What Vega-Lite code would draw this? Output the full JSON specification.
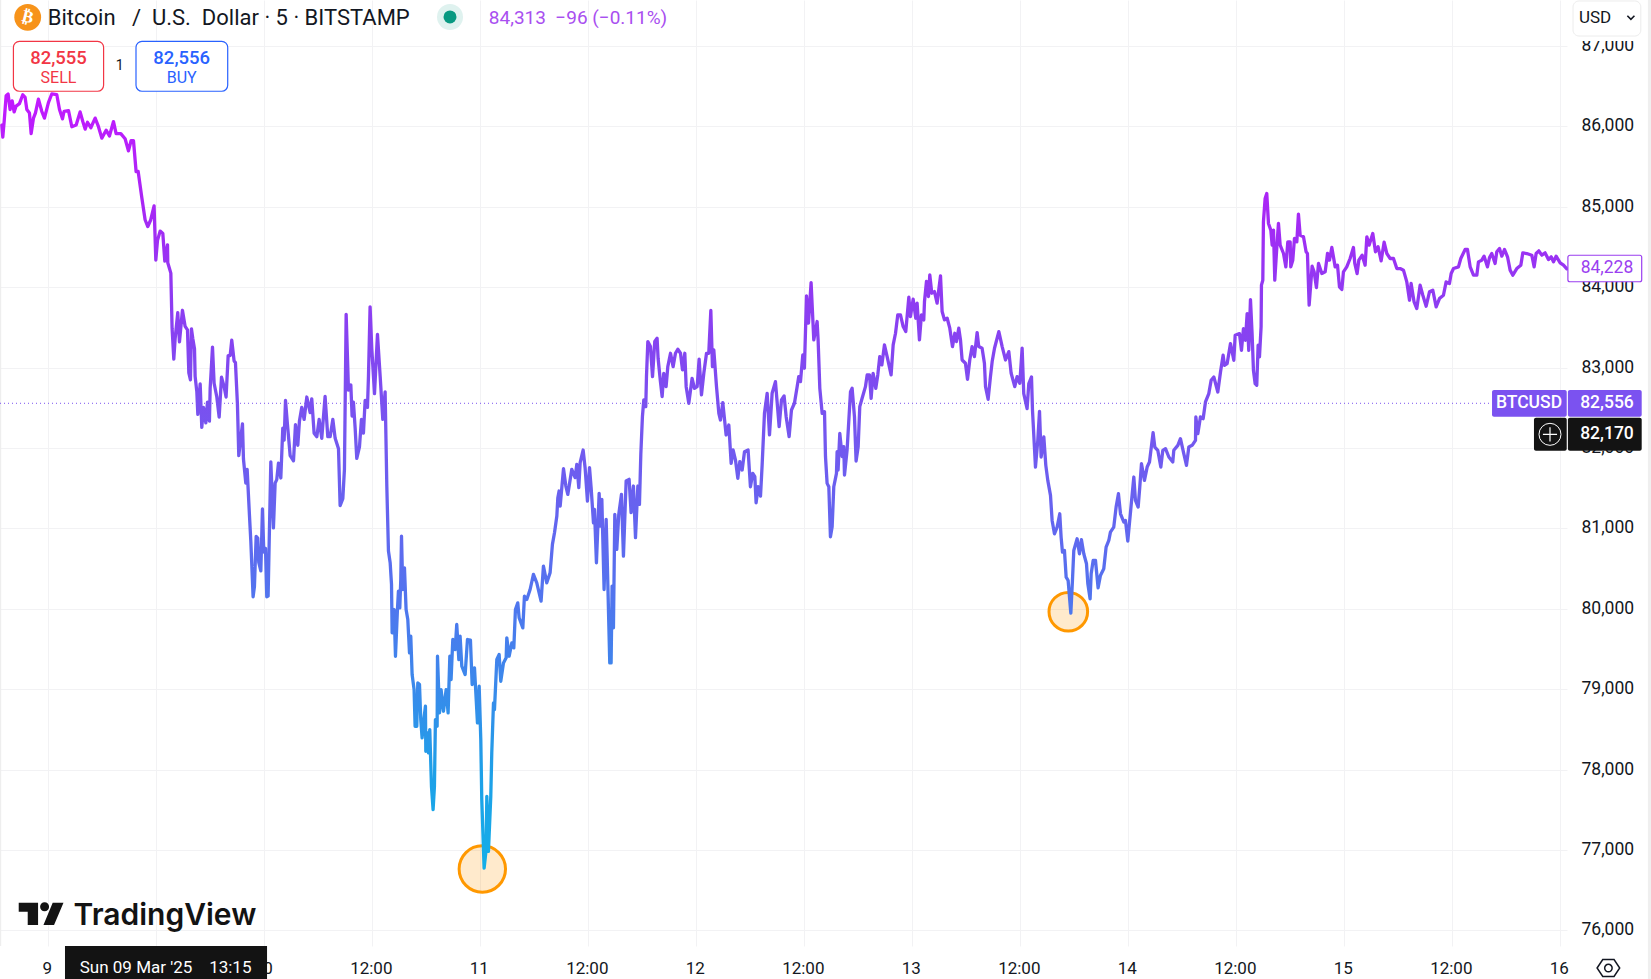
{"$schema":"https://vega.github.io/schema/vega-lite/v6.json","width":1567,"height":946,"padding":{"left":0,"top":0,"right":84,"bottom":33},"autosize":{"type":"none"},"background":"#ffffff","config":{"view":{"stroke":null}},
"encoding":{"x":{"field":"h","type":"quantitative","scale":{"domain":[-5.311,168.8],"nice":false,"zero":false},"axis":{"values":[0,12,24,36,48,60,72,84,96,108,120,132,144,156,168],"labelExpr":"datum.value%24==0?''+(9+datum.value/24):'12:00'","grid":true,"gridColor":"#f2f2f4","domain":false,"ticks":false,"title":null,"labelFont":"Roboto","labelFontSize":17,"labelColor":"#131722","labelPadding":14,"labelOffset":-1,"labelOverlap":false,"labelBound":false,"labelFlush":false}},"y":{"field":"p","type":"quantitative","scale":{"domain":[75806,87572],"nice":false,"zero":false},"axis":{"orient":"right","values":[76000,77000,78000,79000,80000,81000,82000,83000,84000,85000,86000,87000],"format":",.0f","grid":true,"gridColor":"#f2f2f4","domain":false,"ticks":false,"title":null,"labelFont":"Roboto","labelFontSize":17.5,"labelColor":"#131722","labelPadding":14,"labelOffset":-0.5,"labelOverlap":false,"labelBound":false,"labelFlush":false}}},
"layer":[
{"data":{"values":[{"h":-5.26,"p":75806,"p2":87572}]},"mark":{"type":"rule","color":"#eeeeee","strokeWidth":1.5},"encoding":{"y2":{"field":"p2"}}},
{"data":{"values":[{"h":177.96,"p":75396,"p2":87572}]},"mark":{"type":"rule","color":"#efefef","strokeWidth":3},"encoding":{"y2":{"field":"p2"}}},
{"data":{"values":[{"h":-5.311,"h2":160.2,"p":82556}]},"mark":{"type":"rule","color":"#7b52f0","strokeWidth":1,"strokeDash":[1,3]},"encoding":{"x2":{"field":"h2"}}},
{"data":{"values":[{"h":48.28,"p":76764},{"h":113.39,"p":79964}]},"transform":[{"calculate":"datum.h<60?2153:1490","as":"area"}],"mark":{"type":"point","filled":false,"fill":"#ff9800","fillOpacity":0.2,"stroke":"#ff9800","strokeWidth":3,"opacity":1,"shape":"circle"},"encoding":{"size":{"field":"area","type":"quantitative","scale":null}}},
{"data":{"values":[{"h":-5.11,"p":86017},{"h":-5.0,"p":85867},{"h":-4.85,"p":86060},{"h":-4.63,"p":86381},{"h":-4.41,"p":86403},{"h":-4.19,"p":86210},{"h":-3.96,"p":86317},{"h":-3.74,"p":86180},{"h":-3.52,"p":86253},{"h":-3.15,"p":86283},{"h":-2.78,"p":86394},{"h":-2.52,"p":86360},{"h":-2.33,"p":86210},{"h":-2.04,"p":86167},{"h":-1.85,"p":85910},{"h":-1.59,"p":86103},{"h":-1.37,"p":86167},{"h":-1.04,"p":86338},{"h":-0.67,"p":86188},{"h":-0.37,"p":86103},{"h":0.07,"p":86296},{"h":0.44,"p":86403},{"h":1.0,"p":86394},{"h":1.3,"p":86210},{"h":1.63,"p":86094},{"h":1.81,"p":86188},{"h":2.3,"p":86197},{"h":2.67,"p":85996},{"h":3.15,"p":86017},{"h":3.59,"p":86180},{"h":3.89,"p":86060},{"h":4.15,"p":85966},{"h":4.41,"p":86051},{"h":4.78,"p":85983},{"h":5.26,"p":86103},{"h":5.63,"p":85996},{"h":6.0,"p":85854},{"h":6.48,"p":85953},{"h":6.85,"p":85880},{"h":7.3,"p":86060},{"h":7.59,"p":85910},{"h":8.11,"p":85910},{"h":8.59,"p":85846},{"h":8.96,"p":85696},{"h":9.26,"p":85824},{"h":9.52,"p":85824},{"h":9.81,"p":85439},{"h":10.04,"p":85439},{"h":10.44,"p":85118},{"h":10.81,"p":84839},{"h":11.11,"p":84754},{"h":11.44,"p":84839},{"h":11.81,"p":85011},{"h":12.0,"p":84338},{"h":12.19,"p":84582},{"h":12.48,"p":84698},{"h":12.78,"p":84668},{"h":13.0,"p":84325},{"h":13.3,"p":84527},{"h":13.33,"p":84304},{"h":13.67,"p":84175},{"h":13.81,"p":83490},{"h":14.0,"p":83105},{"h":14.15,"p":83362},{"h":14.44,"p":83683},{"h":14.63,"p":83319},{"h":14.96,"p":83713},{"h":15.26,"p":83512},{"h":15.52,"p":83469},{"h":15.67,"p":82933},{"h":15.85,"p":82848},{"h":15.96,"p":83482},{"h":16.11,"p":83362},{"h":16.3,"p":83233},{"h":16.37,"p":82891},{"h":16.56,"p":82698},{"h":16.67,"p":82419},{"h":16.93,"p":82796},{"h":17.11,"p":82257},{"h":17.3,"p":82505},{"h":17.56,"p":82312},{"h":17.74,"p":82569},{"h":17.96,"p":82334},{"h":18.04,"p":82741},{"h":18.3,"p":83255},{"h":18.48,"p":82805},{"h":18.78,"p":82634},{"h":19.04,"p":82385},{"h":19.3,"p":82882},{"h":19.59,"p":82762},{"h":19.81,"p":82634},{"h":20.04,"p":83148},{"h":20.26,"p":83148},{"h":20.44,"p":83340},{"h":20.7,"p":83083},{"h":20.85,"p":83062},{"h":21.07,"p":82548},{"h":21.22,"p":81905},{"h":21.44,"p":82120},{"h":21.63,"p":82300},{"h":21.74,"p":81863},{"h":22.0,"p":81563},{"h":22.15,"p":81734},{"h":22.41,"p":81156},{"h":22.56,"p":80835},{"h":22.81,"p":80150},{"h":22.96,"p":80278},{"h":23.15,"p":80899},{"h":23.33,"p":80878},{"h":23.44,"p":80578},{"h":23.67,"p":80471},{"h":23.85,"p":81242},{"h":24.0,"p":80706},{"h":24.19,"p":80749},{"h":24.33,"p":80150},{"h":24.48,"p":80158},{"h":24.63,"p":81006},{"h":24.78,"p":81828},{"h":25.07,"p":81006},{"h":25.26,"p":81563},{"h":25.44,"p":81606},{"h":25.63,"p":81811},{"h":25.89,"p":81627},{"h":26.11,"p":82248},{"h":26.26,"p":82098},{"h":26.41,"p":82591},{"h":26.63,"p":82291},{"h":26.93,"p":81905},{"h":27.3,"p":81841},{"h":27.52,"p":82291},{"h":27.78,"p":82034},{"h":27.96,"p":82334},{"h":28.22,"p":82505},{"h":28.48,"p":82355},{"h":28.78,"p":82634},{"h":29.15,"p":82441},{"h":29.33,"p":82612},{"h":29.59,"p":82184},{"h":29.89,"p":82141},{"h":30.15,"p":82355},{"h":30.44,"p":82120},{"h":30.81,"p":82642},{"h":31.11,"p":82141},{"h":31.37,"p":82141},{"h":31.67,"p":82355},{"h":31.93,"p":82120},{"h":32.3,"p":81991},{"h":32.48,"p":81284},{"h":32.78,"p":81370},{"h":32.96,"p":81734},{"h":33.15,"p":83662},{"h":33.41,"p":82719},{"h":33.67,"p":82783},{"h":33.81,"p":82398},{"h":33.96,"p":82569},{"h":34.15,"p":82248},{"h":34.33,"p":81871},{"h":34.63,"p":82013},{"h":34.85,"p":82355},{"h":35.07,"p":82184},{"h":35.26,"p":82591},{"h":35.52,"p":82505},{"h":35.63,"p":82891},{"h":35.81,"p":83756},{"h":36.0,"p":83233},{"h":36.3,"p":82676},{"h":36.63,"p":83413},{"h":36.93,"p":82891},{"h":37.22,"p":82355},{"h":37.48,"p":82698},{"h":37.67,"p":81520},{"h":37.85,"p":80718},{"h":38.04,"p":80573},{"h":38.19,"p":80303},{"h":38.26,"p":79701},{"h":38.48,"p":79991},{"h":38.63,"p":79410},{"h":38.85,"p":79991},{"h":38.96,"p":80220},{"h":39.11,"p":80012},{"h":39.22,"p":80365},{"h":39.3,"p":80904},{"h":39.44,"p":80240},{"h":39.63,"p":80510},{"h":39.81,"p":79991},{"h":40.0,"p":79867},{"h":40.19,"p":79452},{"h":40.33,"p":79659},{"h":40.48,"p":79182},{"h":40.7,"p":78995},{"h":40.81,"p":78539},{"h":41.0,"p":78539},{"h":41.11,"p":79078},{"h":41.3,"p":79058},{"h":41.44,"p":78622},{"h":41.59,"p":78394},{"h":41.78,"p":78622},{"h":41.96,"p":78788},{"h":42.0,"p":78228},{"h":42.19,"p":78456},{"h":42.3,"p":78207},{"h":42.44,"p":78497},{"h":42.63,"p":77792},{"h":42.81,"p":77501},{"h":42.96,"p":77792},{"h":43.07,"p":78622},{"h":43.26,"p":78539},{"h":43.3,"p":79410},{"h":43.52,"p":78705},{"h":43.7,"p":78995},{"h":43.96,"p":78726},{"h":44.26,"p":78995},{"h":44.48,"p":78705},{"h":44.67,"p":79410},{"h":44.81,"p":79120},{"h":45.0,"p":79618},{"h":45.26,"p":79493},{"h":45.44,"p":79805},{"h":45.67,"p":79369},{"h":45.81,"p":79659},{"h":46.0,"p":79286},{"h":46.37,"p":79182},{"h":46.63,"p":79618},{"h":46.96,"p":79610},{"h":47.15,"p":79058},{"h":47.41,"p":79265},{"h":47.74,"p":78580},{"h":47.93,"p":79037},{"h":48.11,"p":78373},{"h":48.22,"p":77626},{"h":48.48,"p":76775},{"h":48.7,"p":77003},{"h":48.78,"p":77667},{"h":48.96,"p":76983},{"h":49.22,"p":77667},{"h":49.33,"p":78207},{"h":49.52,"p":78829},{"h":49.63,"p":78746},{"h":49.89,"p":79369},{"h":50.15,"p":79431},{"h":50.33,"p":79099},{"h":50.63,"p":79327},{"h":50.93,"p":79390},{"h":51.0,"p":79639},{"h":51.26,"p":79410},{"h":51.56,"p":79576},{"h":51.78,"p":79514},{"h":51.96,"p":79991},{"h":52.22,"p":80074},{"h":52.37,"p":79888},{"h":52.78,"p":79763},{"h":52.96,"p":80157},{"h":53.22,"p":80116},{"h":53.59,"p":80240},{"h":53.96,"p":80427},{"h":54.33,"p":80323},{"h":54.81,"p":80095},{"h":55.07,"p":80531},{"h":55.44,"p":80323},{"h":55.81,"p":80448},{"h":56.07,"p":80801},{"h":56.3,"p":80946},{"h":56.56,"p":81153},{"h":56.67,"p":81382},{"h":56.81,"p":81465},{"h":56.93,"p":81278},{"h":57.3,"p":81743},{"h":57.56,"p":81527},{"h":57.78,"p":81423},{"h":58.22,"p":81734},{"h":58.59,"p":81631},{"h":58.78,"p":81797},{"h":59.0,"p":81506},{"h":59.15,"p":81817},{"h":59.48,"p":81975},{"h":59.7,"p":81755},{"h":59.96,"p":81340},{"h":60.19,"p":81755},{"h":60.37,"p":81506},{"h":60.63,"p":81070},{"h":60.74,"p":81236},{"h":60.96,"p":80572},{"h":61.26,"p":81436},{"h":61.41,"p":81029},{"h":61.56,"p":81361},{"h":61.81,"p":80240},{"h":62.04,"p":81112},{"h":62.15,"p":80655},{"h":62.44,"p":79327},{"h":62.59,"p":79327},{"h":62.7,"p":80282},{"h":62.85,"p":79763},{"h":63.0,"p":81174},{"h":63.22,"p":80738},{"h":63.44,"p":81174},{"h":63.74,"p":81423},{"h":63.96,"p":80655},{"h":64.26,"p":81589},{"h":64.59,"p":81610},{"h":64.81,"p":81195},{"h":65.07,"p":81527},{"h":65.3,"p":80884},{"h":65.56,"p":81527},{"h":65.74,"p":81299},{"h":65.89,"p":81921},{"h":66.07,"p":82390},{"h":66.22,"p":82597},{"h":66.44,"p":82514},{"h":66.52,"p":82888},{"h":66.67,"p":83324},{"h":66.96,"p":83261},{"h":67.19,"p":82888},{"h":67.44,"p":83324},{"h":67.7,"p":83365},{"h":67.81,"p":83116},{"h":68.07,"p":82826},{"h":68.26,"p":82639},{"h":68.44,"p":82929},{"h":68.7,"p":82763},{"h":68.89,"p":83012},{"h":69.19,"p":83178},{"h":69.48,"p":83012},{"h":69.74,"p":83178},{"h":70.0,"p":83228},{"h":70.3,"p":83178},{"h":70.52,"p":82971},{"h":70.78,"p":83178},{"h":70.93,"p":82763},{"h":71.22,"p":82556},{"h":71.59,"p":82867},{"h":71.85,"p":82742},{"h":72.15,"p":82763},{"h":72.37,"p":83104},{"h":72.63,"p":82660},{"h":72.89,"p":82929},{"h":73.19,"p":83178},{"h":73.44,"p":83178},{"h":73.67,"p":83710},{"h":73.85,"p":83012},{"h":74.0,"p":83220},{"h":74.3,"p":82763},{"h":74.56,"p":82431},{"h":74.74,"p":82348},{"h":75.0,"p":82564},{"h":75.37,"p":82162},{"h":75.67,"p":82286},{"h":75.93,"p":81809},{"h":76.15,"p":81975},{"h":76.41,"p":81850},{"h":76.67,"p":81622},{"h":76.89,"p":81830},{"h":77.15,"p":81726},{"h":77.41,"p":81954},{"h":77.81,"p":81975},{"h":78.07,"p":81518},{"h":78.33,"p":81684},{"h":78.56,"p":81643},{"h":78.7,"p":81319},{"h":78.93,"p":81518},{"h":79.19,"p":81402},{"h":79.37,"p":81788},{"h":79.63,"p":82431},{"h":79.93,"p":82680},{"h":80.19,"p":82162},{"h":80.48,"p":82680},{"h":80.85,"p":82826},{"h":81.26,"p":82265},{"h":81.52,"p":82597},{"h":81.81,"p":82647},{"h":82.04,"p":82390},{"h":82.37,"p":82141},{"h":82.63,"p":82473},{"h":82.96,"p":82556},{"h":83.26,"p":82763},{"h":83.44,"p":82888},{"h":83.63,"p":82826},{"h":83.89,"p":83158},{"h":84.07,"p":82992},{"h":84.3,"p":83892},{"h":84.52,"p":83552},{"h":84.81,"p":84058},{"h":85.11,"p":83344},{"h":85.48,"p":83573},{"h":85.59,"p":83344},{"h":85.78,"p":82742},{"h":86.04,"p":82431},{"h":86.3,"p":82452},{"h":86.41,"p":81892},{"h":86.59,"p":81560},{"h":86.78,"p":81518},{"h":86.96,"p":80896},{"h":87.15,"p":81020},{"h":87.33,"p":81518},{"h":87.63,"p":81684},{"h":87.7,"p":81954},{"h":87.81,"p":81726},{"h":88.0,"p":82182},{"h":88.26,"p":81892},{"h":88.44,"p":82016},{"h":88.52,"p":81664},{"h":88.81,"p":81975},{"h":89.19,"p":82701},{"h":89.37,"p":82742},{"h":89.63,"p":82390},{"h":89.81,"p":81838},{"h":90.04,"p":82016},{"h":90.22,"p":82514},{"h":90.48,"p":82618},{"h":90.85,"p":82763},{"h":91.04,"p":82909},{"h":91.3,"p":82909},{"h":91.48,"p":82618},{"h":91.7,"p":82929},{"h":92.0,"p":82742},{"h":92.22,"p":82909},{"h":92.44,"p":83137},{"h":92.67,"p":83033},{"h":92.96,"p":83282},{"h":93.26,"p":83137},{"h":93.7,"p":82909},{"h":93.93,"p":83282},{"h":94.19,"p":83427},{"h":94.44,"p":83656},{"h":94.74,"p":83656},{"h":95.04,"p":83510},{"h":95.33,"p":83448},{"h":95.67,"p":83876},{"h":95.85,"p":83635},{"h":96.15,"p":83851},{"h":96.44,"p":83614},{"h":96.59,"p":83801},{"h":96.85,"p":83344},{"h":97.07,"p":83656},{"h":97.33,"p":83593},{"h":97.41,"p":83822},{"h":97.63,"p":84071},{"h":97.85,"p":83884},{"h":98.0,"p":84154},{"h":98.22,"p":83925},{"h":98.52,"p":83946},{"h":98.81,"p":83801},{"h":99.19,"p":84141},{"h":99.37,"p":83697},{"h":99.63,"p":83593},{"h":99.93,"p":83614},{"h":100.22,"p":83490},{"h":100.52,"p":83261},{"h":100.78,"p":83427},{"h":100.96,"p":83324},{"h":101.22,"p":83490},{"h":101.41,"p":83344},{"h":101.59,"p":83095},{"h":101.96,"p":83054},{"h":102.19,"p":82855},{"h":102.44,"p":83095},{"h":102.7,"p":83261},{"h":102.96,"p":83137},{"h":103.26,"p":83436},{"h":103.44,"p":83261},{"h":103.81,"p":83241},{"h":104.07,"p":83054},{"h":104.19,"p":82763},{"h":104.48,"p":82606},{"h":104.74,"p":82888},{"h":104.93,"p":83075},{"h":105.19,"p":83241},{"h":105.67,"p":83448},{"h":106.04,"p":83261},{"h":106.41,"p":83095},{"h":106.78,"p":83199},{"h":107.04,"p":82929},{"h":107.44,"p":82763},{"h":107.7,"p":82888},{"h":108.0,"p":82805},{"h":108.26,"p":83241},{"h":108.44,"p":82676},{"h":108.81,"p":82490},{"h":109.0,"p":82801},{"h":109.3,"p":82884},{"h":109.41,"p":82469},{"h":109.74,"p":81763},{"h":110.0,"p":82095},{"h":110.19,"p":82456},{"h":110.37,"p":81888},{"h":110.67,"p":82137},{"h":110.89,"p":81784},{"h":111.11,"p":81597},{"h":111.41,"p":81411},{"h":111.59,"p":81099},{"h":111.85,"p":80933},{"h":112.15,"p":81016},{"h":112.44,"p":81182},{"h":112.59,"p":80892},{"h":112.74,"p":80705},{"h":112.96,"p":80726},{"h":113.15,"p":80394},{"h":113.37,"p":80352},{"h":113.67,"p":79946},{"h":113.85,"p":80352},{"h":114.0,"p":80726},{"h":114.37,"p":80871},{"h":114.63,"p":80684},{"h":114.85,"p":80859},{"h":115.11,"p":80684},{"h":115.41,"p":80560},{"h":115.56,"p":80311},{"h":115.81,"p":80124},{"h":115.93,"p":80435},{"h":116.15,"p":80601},{"h":116.41,"p":80601},{"h":116.7,"p":80261},{"h":116.96,"p":80415},{"h":117.33,"p":80498},{"h":117.59,"p":80767},{"h":117.89,"p":80850},{"h":118.07,"p":80954},{"h":118.44,"p":81016},{"h":118.7,"p":81265},{"h":118.96,"p":81431},{"h":119.19,"p":81182},{"h":119.56,"p":81079},{"h":119.74,"p":81099},{"h":120.0,"p":80842},{"h":120.11,"p":80975},{"h":120.37,"p":81286},{"h":120.67,"p":81639},{"h":120.85,"p":81348},{"h":121.15,"p":81265},{"h":121.33,"p":81514},{"h":121.52,"p":81805},{"h":121.85,"p":81597},{"h":122.15,"p":81763},{"h":122.41,"p":81826},{"h":122.81,"p":82191},{"h":123.0,"p":82012},{"h":123.33,"p":81971},{"h":123.67,"p":81763},{"h":123.89,"p":81971},{"h":124.19,"p":81992},{"h":124.56,"p":81888},{"h":125.0,"p":81826},{"h":125.11,"p":81971},{"h":125.56,"p":82033},{"h":125.85,"p":82116},{"h":126.22,"p":81929},{"h":126.52,"p":81784},{"h":126.78,"p":82012},{"h":127.15,"p":82033},{"h":127.52,"p":82095},{"h":127.56,"p":82386},{"h":127.78,"p":82178},{"h":128.07,"p":82386},{"h":128.37,"p":82365},{"h":128.63,"p":82573},{"h":129.0,"p":82676},{"h":129.26,"p":82842},{"h":129.56,"p":82884},{"h":130.0,"p":82697},{"h":130.3,"p":82946},{"h":130.59,"p":83154},{"h":130.74,"p":83029},{"h":131.04,"p":83050},{"h":131.41,"p":83299},{"h":131.78,"p":83091},{"h":131.93,"p":83402},{"h":132.41,"p":83423},{"h":132.63,"p":83215},{"h":132.85,"p":83485},{"h":133.07,"p":83340},{"h":133.26,"p":83672},{"h":133.44,"p":83215},{"h":133.63,"p":83846},{"h":133.81,"p":83423},{"h":133.96,"p":82967},{"h":134.15,"p":82800},{"h":134.33,"p":82780},{"h":134.48,"p":83278},{"h":134.63,"p":83133},{"h":134.81,"p":83506},{"h":134.85,"p":84025},{"h":135.0,"p":84087},{"h":135.07,"p":84813},{"h":135.26,"p":85104},{"h":135.44,"p":85166},{"h":135.63,"p":84793},{"h":135.89,"p":84710},{"h":136.04,"p":84523},{"h":136.19,"p":84710},{"h":136.33,"p":84087},{"h":136.56,"p":84502},{"h":136.74,"p":84793},{"h":136.93,"p":84523},{"h":137.3,"p":84419},{"h":137.56,"p":84253},{"h":137.78,"p":84564},{"h":138.04,"p":84564},{"h":138.11,"p":84253},{"h":138.33,"p":84336},{"h":138.52,"p":84606},{"h":138.78,"p":84564},{"h":138.96,"p":84909},{"h":139.15,"p":84647},{"h":139.52,"p":84627},{"h":139.81,"p":84440},{"h":139.96,"p":84419},{"h":140.15,"p":83776},{"h":140.48,"p":84261},{"h":140.7,"p":84191},{"h":140.96,"p":83996},{"h":141.19,"p":84295},{"h":141.56,"p":84170},{"h":141.93,"p":84191},{"h":142.19,"p":84419},{"h":142.41,"p":84336},{"h":142.67,"p":84494},{"h":143.04,"p":84253},{"h":143.3,"p":84274},{"h":143.52,"p":84004},{"h":143.78,"p":83971},{"h":143.96,"p":84191},{"h":144.33,"p":84253},{"h":144.7,"p":84357},{"h":145.07,"p":84494},{"h":145.22,"p":84295},{"h":145.48,"p":84170},{"h":145.67,"p":84336},{"h":146.04,"p":84398},{"h":146.37,"p":84274},{"h":146.56,"p":84627},{"h":146.81,"p":84523},{"h":147.22,"p":84668},{"h":147.52,"p":84440},{"h":147.81,"p":84502},{"h":148.15,"p":84328},{"h":148.48,"p":84560},{"h":148.78,"p":84419},{"h":149.15,"p":84357},{"h":149.52,"p":84357},{"h":149.89,"p":84232},{"h":150.26,"p":84232},{"h":150.63,"p":84212},{"h":151.0,"p":84066},{"h":151.3,"p":83838},{"h":151.48,"p":84046},{"h":151.81,"p":83817},{"h":152.11,"p":83734},{"h":152.48,"p":84025},{"h":152.78,"p":83900},{"h":153.15,"p":83763},{"h":153.52,"p":83942},{"h":153.89,"p":83962},{"h":154.26,"p":83755},{"h":154.63,"p":83859},{"h":155.07,"p":83900},{"h":155.37,"p":84066},{"h":155.74,"p":84046},{"h":155.93,"p":84170},{"h":156.19,"p":84232},{"h":156.74,"p":84253},{"h":157.0,"p":84357},{"h":157.48,"p":84469},{"h":157.74,"p":84469},{"h":158.04,"p":84253},{"h":158.41,"p":84149},{"h":158.78,"p":84149},{"h":158.96,"p":84315},{"h":159.33,"p":84336},{"h":159.59,"p":84386},{"h":159.96,"p":84253},{"h":160.19,"p":84369},{"h":160.44,"p":84419},{"h":160.81,"p":84295},{"h":161.0,"p":84440},{"h":161.3,"p":84481},{"h":161.56,"p":84386},{"h":161.85,"p":84469},{"h":162.19,"p":84378},{"h":162.48,"p":84212},{"h":162.78,"p":84149},{"h":163.22,"p":84232},{"h":163.67,"p":84274},{"h":163.89,"p":84427},{"h":164.33,"p":84419},{"h":164.89,"p":84398},{"h":165.15,"p":84253},{"h":165.37,"p":84419},{"h":165.67,"p":84452},{"h":166.0,"p":84398},{"h":166.37,"p":84427},{"h":166.74,"p":84344},{"h":167.04,"p":84378},{"h":167.3,"p":84315},{"h":167.59,"p":84386},{"h":168.04,"p":84303},{"h":168.41,"p":84274},{"h":168.78,"p":84228}]},"mark":{"type":"line","strokeWidth":3.3,"strokeJoin":"round","strokeCap":"round","color":{"gradient":"linear","x1":0,"y1":0,"x2":0,"y2":1,"stops":[{"offset":0,"color":"#c219ff"},{"offset":0.14,"color":"#a926f5"},{"offset":0.25,"color":"#9139f2"},{"offset":0.35,"color":"#8148f0"},{"offset":0.45,"color":"#7358ef"},{"offset":0.56,"color":"#6266ef"},{"offset":0.66,"color":"#4f76ee"},{"offset":0.76,"color":"#3b88eb"},{"offset":0.87,"color":"#1f9fe8"},{"offset":1,"color":"#14aee8"}]}}},
{"data":{"values":[{"h":169.47,"h2":177.0,"p":87062,"p2":87124}]},"mark":{"type":"rect","fill":"#ffffff"},"encoding":{"x2":{"field":"h2"},"y2":{"field":"p2"}}},
{"data":{"values":[{"h":169.47,"h2":177.0,"p":87124,"p2":87560}]},"mark":{"type":"rect","fill":"#ffffff","stroke":"#ececec","strokeWidth":1,"cornerRadius":6},"encoding":{"x2":{"field":"h2"},"y2":{"field":"p2"}}},
{"data":{"values":[{"h":168.9,"h2":177.1,"p":84068,"p2":84397}]},"mark":{"type":"rect","fill":"#ffffff","stroke":"#9b3ff0","strokeWidth":1.2,"cornerRadius":2},"encoding":{"x2":{"field":"h2"},"y2":{"field":"p2"}}},
{"data":{"values":[{"h":160.47,"h2":168.77,"p":82389,"p2":82721},{"h":168.9,"h2":177.1,"p":82389,"p2":82721}]},"mark":{"type":"rect","fill":"#7b52f0","cornerRadius":2},"encoding":{"x2":{"field":"h2"},"y2":{"field":"p2"}}},
{"data":{"values":[{"h":165.13,"h2":168.77,"p":81966,"p2":82377},{"h":168.9,"h2":177.1,"p":81966,"p2":82377}]},"mark":{"type":"rect","fill":"#131313","cornerRadius":2},"encoding":{"x2":{"field":"h2"},"y2":{"field":"p2"}}},
{"data":{"values":[{"h":1.91,"h2":24.36,"p":75396,"p2":75806}]},"mark":{"type":"rect","fill":"#131313"},"encoding":{"x2":{"field":"h2"},"y2":{"field":"p2"}}},
{"data":{"values":[{"h":-3.82,"h2":6.2,"p":86437,"p2":87058}]},"mark":{"type":"rect","fill":"#ffffff","stroke":"#f23645","strokeWidth":1.2,"cornerRadius":6},"encoding":{"x2":{"field":"h2"},"y2":{"field":"p2"}}},
{"data":{"values":[{"h":9.8,"h2":19.99,"p":86437,"p2":87058}]},"mark":{"type":"rect","fill":"#ffffff","stroke":"#2962ff","strokeWidth":1.2,"cornerRadius":6},"encoding":{"x2":{"field":"h2"},"y2":{"field":"p2"}}},
{"data":{"values":[{"h":-2.233,"p":87357}]},"mark":{"type":"point","filled":true,"shape":"circle","size":718,"color":"#f7931a","opacity":1}},
{"data":{"values":[{"h":44.69,"p":87361}]},"mark":{"type":"point","filled":true,"shape":"circle","size":676,"color":"#dff2ef","opacity":1}},
{"data":{"values":[{"h":44.69,"p":87361}]},"mark":{"type":"point","filled":true,"shape":"circle","size":169,"color":"#089981","opacity":1}},
{"data":{"values":[{"h":166.91,"p":82170}]},"mark":{"type":"point","filled":false,"shape":"circle","size":484,"color":"#ffffff","strokeWidth":1,"opacity":1}},
{"data":{"values":[{"h":166.91,"p":82170}]},"mark":{"type":"point","filled":false,"shape":"M-1,0H1M0,-1V1","size":200,"color":"#ffffff","strokeWidth":1.2,"opacity":1}},
{"data":{"values":[{"h":175.9,"p":87354}]},"mark":{"type":"point","filled":false,"shape":"M-1,-0.5L0,0.5L1,-0.5","size":50,"color":"#131722","strokeWidth":1.6,"opacity":1}},
{"data":{"values":[{"h":-0.756,"p":76204}]},"mark":{"type":"point","filled":true,"shape":"M-0.99,-0.5L-0.13,-0.5L-0.13,0.49L-0.59,0.49L-0.59,-0.1L-0.99,-0.1ZM-0.04,-0.32a0.2,0.2 0 1,0 0.4,0a0.2,0.2 0 1,0 -0.4,0ZM0.52,-0.5L1,-0.5L0.58,0.49L0.11,0.49Z","size":2025,"color":"#131313","opacity":1}},
{"data":{"values":[{"h":173.4,"p":75532}]},"mark":{"type":"point","filled":false,"shape":"M-1,0L-0.5,-0.75L0.5,-0.75L1,0L0.5,0.75L-0.5,0.75ZM-0.33,0a0.33,0.33 0 1,0 0.66,0a0.33,0.33 0 1,0 -0.66,0Z","size":511,"color":"#131722","strokeWidth":1.5,"opacity":1}},
{"data":{"values":[{"h":-2.233,"p":87357,"label":"₿"}]},"mark":{"type":"text","font":"DejaVu Sans","fontSize":17,"fontWeight":"bold","color":"#ffffff","angle":14,"align":"center","baseline":"middle"},"encoding":{"text":{"field":"label"}}},
{"data":{"values":[{"h":0,"p":87354,"label":"Bitcoin\u00a0\u00a0\u00a0/\u00a0\u00a0U.S.\u00a0\u00a0Dollar · 5 · BITSTAMP"}]},"mark":{"type":"text","font":"Roboto","fontSize":22,"color":"#131722","align":"left","baseline":"middle"},"encoding":{"text":{"field":"label"}}},
{"data":{"values":[{"h":49.0,"p":87354,"label":"84,313\u00a0\u00a0−96 (−0.11%)"}]},"mark":{"type":"text","font":"Roboto","fontSize":19,"color":"#a94ff0","align":"left","baseline":"middle"},"encoding":{"text":{"field":"label"}}},
{"data":{"values":[{"h":1.19,"p":86854,"label":"82,555"}]},"mark":{"type":"text","font":"Roboto","fontSize":18.5,"fontWeight":500,"color":"#f23645","align":"center","baseline":"middle"},"encoding":{"text":{"field":"label"}}},
{"data":{"values":[{"h":1.19,"p":86598,"label":"SELL"}]},"mark":{"type":"text","font":"Roboto","fontSize":16,"color":"#f23645","align":"center","baseline":"middle"},"encoding":{"text":{"field":"label"}}},
{"data":{"values":[{"h":14.88,"p":86854,"label":"82,556"}]},"mark":{"type":"text","font":"Roboto","fontSize":18.5,"fontWeight":500,"color":"#2962ff","align":"center","baseline":"middle"},"encoding":{"text":{"field":"label"}}},
{"data":{"values":[{"h":14.88,"p":86598,"label":"BUY"}]},"mark":{"type":"text","font":"Roboto","fontSize":16,"color":"#2962ff","align":"center","baseline":"middle"},"encoding":{"text":{"field":"label"}}},
{"data":{"values":[{"h":7.98,"p":86751,"label":"1"}]},"mark":{"type":"text","font":"Roboto","fontSize":14,"color":"#131722","align":"center","baseline":"middle"},"encoding":{"text":{"field":"label"}}},
{"data":{"values":[{"h":170.13,"p":87354,"label":"USD"}]},"mark":{"type":"text","font":"Roboto","fontSize":17,"color":"#131722","align":"left","baseline":"middle"},"encoding":{"text":{"field":"label"}}},
{"data":{"values":[{"h":173.24,"p":84233,"label":"84,228"}]},"mark":{"type":"text","font":"Roboto","fontSize":17.5,"color":"#9b3ff0","align":"center","baseline":"middle"},"encoding":{"text":{"field":"label"}}},
{"data":{"values":[{"h":173.24,"p":82556,"label":"82,556"},{"h":164.58,"p":82556,"label":"BTCUSD"}]},"mark":{"type":"text","font":"Roboto","fontSize":17.5,"fontWeight":500,"color":"#ffffff","align":"center","baseline":"middle"},"encoding":{"text":{"field":"label"}}},
{"data":{"values":[{"h":173.24,"p":82174,"label":"82,170"}]},"mark":{"type":"text","font":"Roboto","fontSize":17.5,"fontWeight":500,"color":"#ffffff","align":"center","baseline":"middle"},"encoding":{"text":{"field":"label"}}},
{"data":{"values":[{"h":13.09,"p":75532,"label":"Sun 09 Mar '25\u00a0\u00a0\u00a0\u00a013:15"}]},"mark":{"type":"text","font":"Roboto","fontSize":17,"color":"#ffffff","align":"center","baseline":"middle"},"encoding":{"text":{"field":"label"}}},
{"data":{"values":[{"h":2.86,"p":76180,"label":"TradingView"}]},"mark":{"type":"text","font":"Inter","fontSize":30,"fontWeight":600,"color":"#131313","align":"left","baseline":"middle"},"encoding":{"text":{"field":"label"}}}
]}
